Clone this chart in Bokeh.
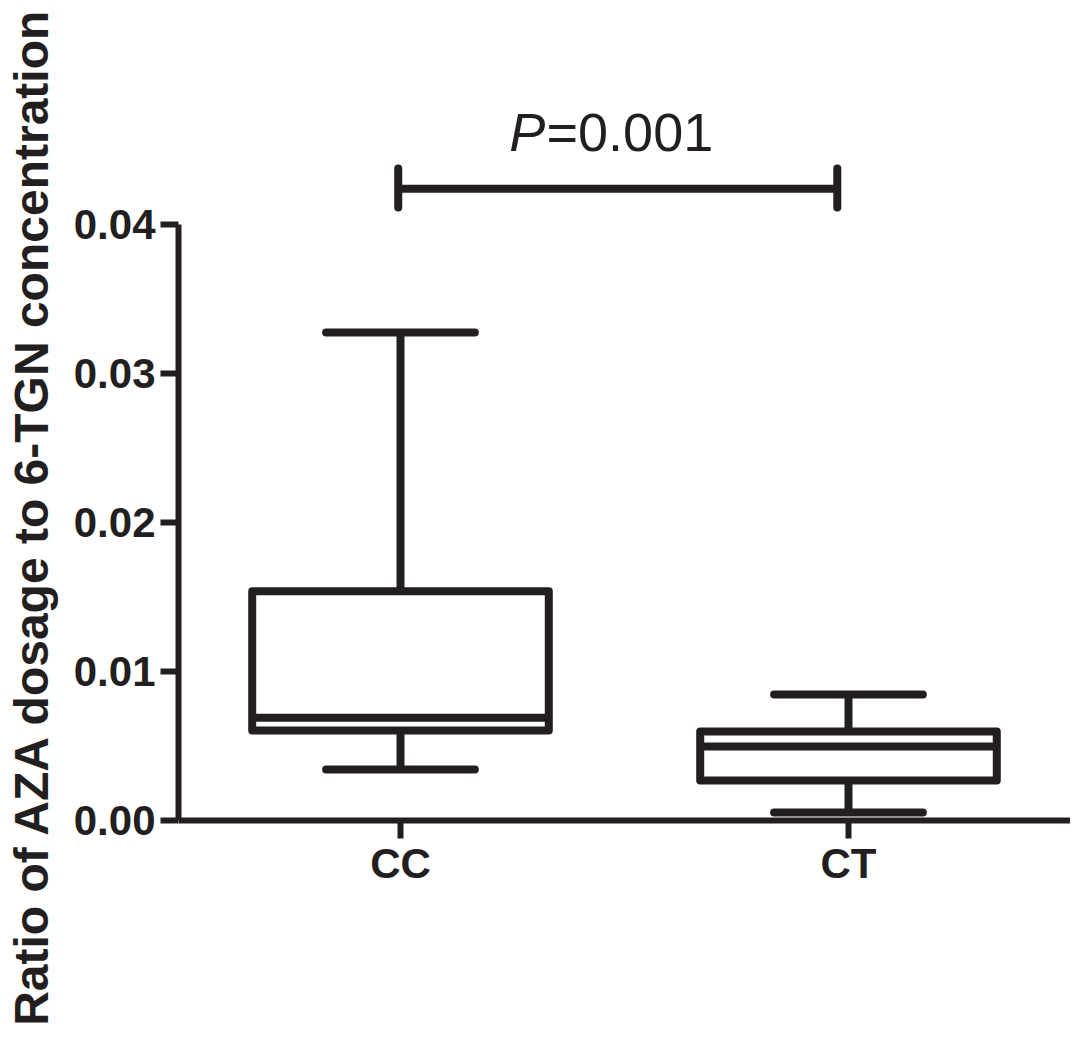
from bokeh.plotting import figure
from bokeh.models import Range1d, FixedTicker, PrintfTickFormatter, ColumnDataSource
from bokeh.core.properties import value
from bokeh.embed import file_html
from bokeh.resources import INLINE

# ---- data ----
categories = ["CC", "CT"]
whisker_low = [0.00342, 0.00054]
q1 = [0.00604, 0.00268]
median = [0.00689, 0.00497]
q3 = [0.01539, 0.00597]
whisker_high = [0.03275, 0.00846]
y_ticks = [0.00, 0.01, 0.02, 0.03, 0.04]
p_value_text = "=0.001"
y_title = "Ratio of AZA dosage to 6-TGN concentration"

INK = "#231f20"
FONT = "Liberation Sans"

H = 1032
W = 1070
FRAME_LEFT = 178
AXIS_Y_PX = 820
PX_PER_X = 448.0
PX_PER_Y = 14900.0

positions = [i + 1 for i in range(len(categories))]
half_box = 0.331
half_cap = 0.166

x0 = positions[0] - 222 / PX_PER_X
x1 = positions[1] + (W - FRAME_LEFT - 222 - PX_PER_X) / PX_PER_X
p = figure(width=W, height=H, output_backend="svg", toolbar_location=None,
           x_range=Range1d(x0, x1),
           y_range=Range1d(-(H - AXIS_Y_PX) / PX_PER_Y, AXIS_Y_PX / PX_PER_Y),
           min_border_left=FRAME_LEFT, min_border_right=0, min_border_top=0,
           min_border_bottom=0)
p.outline_line_color = None
p.grid.visible = False
p.background_fill_color = "white"

src = ColumnDataSource(dict(
    x=positions, left=[x - half_box for x in positions], right=[x + half_box for x in positions],
    cl=[x - half_cap for x in positions], cr=[x + half_cap for x in positions],
    lo=whisker_low, q1=q1, med=median, q3=q3, hi=whisker_high))

# whiskers
p.segment(x0="x", y0="q3", x1="x", y1="hi", source=src, line_color=INK, line_width=8)
p.segment(x0="x", y0="lo", x1="x", y1="q1", source=src, line_color=INK, line_width=8)
# caps
p.segment(x0="cl", y0="hi", x1="cr", y1="hi", source=src, line_color=INK, line_width=8, line_cap="round")
p.segment(x0="cl", y0="lo", x1="cr", y1="lo", source=src, line_color=INK, line_width=8, line_cap="round")
# boxes
p.quad(left="left", right="right", bottom="q1", top="q3", source=src, fill_color="white",
       line_color=INK, line_width=8, line_join="round")
# medians
p.segment(x0="left", y0="med", x1="right", y1="med", source=src, line_color=INK, line_width=8)

# significance bracket
bx0, bx1 = positions[0] - 0.005, positions[1] - 0.025
by = 0.04240
p.segment(x0=[bx0], y0=[by], x1=[bx1], y1=[by], line_color=INK, line_width=8)
p.segment(x0=[bx0, bx1], y0=[by - 0.00126, by - 0.00126], x1=[bx0, bx1], y1=[by + 0.00136, by + 0.00136],
          line_color=INK, line_width=8, line_cap="round")
split_x = 1.326
ty = 0.04624
p.text(x=[split_x - 0.003], y=[ty], text=["P"], text_font=value(FONT), text_font_size="54px",
       text_font_style="italic", text_align="right", text_baseline="alphabetic", text_color=INK)
p.text(x=[split_x], y=[ty], text=[p_value_text], text_font=value(FONT), text_font_size="54px",
       text_align="left", text_baseline="alphabetic", text_color=INK)

# axes
for ax in (p.xaxis[0], p.yaxis[0]):
    ax.axis_line_color = INK
    ax.axis_line_width = 6
    ax.major_tick_line_color = INK
    ax.major_tick_line_width = 6
    ax.major_tick_in = 0
    ax.major_tick_out = 18
    ax.minor_tick_line_color = None
    ax.major_label_text_font = FONT
    ax.major_label_text_font_size = "42px"
    ax.major_label_text_font_style = "bold"
    ax.major_label_text_color = INK

p.yaxis.ticker = FixedTicker(ticks=y_ticks)
p.yaxis.formatter = PrintfTickFormatter(format="%.2f")
p.yaxis.bounds = (y_ticks[0], y_ticks[-1])
p.yaxis.major_label_standoff = 5
p.yaxis.axis_label = y_title
p.yaxis.axis_label_text_font = FONT
p.yaxis.axis_label_text_font_size = "48px"
p.yaxis.axis_label_text_font_style = "bold"
p.yaxis.axis_label_text_color = INK
p.yaxis.axis_label_standoff = 13

p.xaxis.ticker = FixedTicker(ticks=positions)
p.xaxis.major_label_overrides = {x: c for x, c in zip(positions, categories)}
p.xaxis.major_label_standoff = 1
p.xaxis.fixed_location = 0

open("out.html", "w").write(file_html(p, INLINE))
